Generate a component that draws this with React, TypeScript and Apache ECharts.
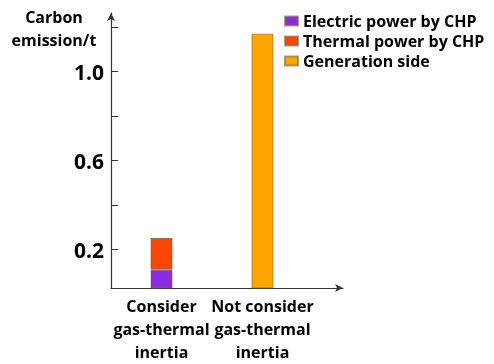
import React, { useEffect, useRef } from "react";
import * as echarts from "echarts";

const categories = ["Consider\ngas-thermal\ninertia", "Not consider\ngas-thermal\ninertia"];
const seriesNames = ["Electric power by CHP", "Thermal power by CHP", "Generation side"];
const electricCHP = [0.109, 0];
const thermalCHP = [0.14, 0];
const generationSide = [0, 1.17];
const yTickValues = [0.2, 0.4, 0.6, 0.8, 1.0, 1.2];
const yLabelValues = [0.2, 0.6, 1.0];
const colors = ["#8A2BE2", "#FF4500", "#FFA500"];

const FONT = "Open Sans";
const AXIS_COLOR = "#333";

export default function App() {
  const ref = useRef<HTMLDivElement>(null);
  useEffect(() => {
    if (!ref.current) return;
    const chart = echarts.init(ref.current, null, { renderer: "svg" });
    const values = [electricCHP, thermalCHP, generationSide];
    chart.setOption({
      animation: false,
      textStyle: { fontFamily: FONT },
      grid: [
        { left: 111, right: 181, top: 13, bottom: 76 },
        { left: 111, right: 151, top: 13, bottom: 76 },
      ],
      legend: {
        orient: "vertical",
        left: 284,
        top: 12,
        padding: 0,
        itemWidth: 13,
        itemHeight: 9,
        itemGap: 2,
        icon: "rect",
        textStyle: { fontFamily: FONT, fontWeight: "bold", fontSize: 16, lineHeight: 18, color: "#000" },
        data: seriesNames,
      },
      graphic: [
        {
          type: "text",
          x: 54,
          y: 5,
          style: {
            text: "Carbon\nemission/t",
            textAlign: "center",
            font: `bold 16px ${FONT}`,
            lineHeight: 23,
            fill: "#000",
          },
        },
      ],
      xAxis: [
        {
          type: "category",
          gridIndex: 0,
          data: categories,
          axisLine: { show: false },
          axisTick: { show: false },
          splitLine: { show: false },
          axisLabel: {
            interval: 0,
            fontFamily: FONT,
            fontWeight: "bold",
            fontSize: 16,
            lineHeight: 23,
            color: "#000",
            margin: 6,
          },
        },
        {
          type: "value",
          gridIndex: 1,
          min: 0,
          max: 1,
          axisLine: { show: true, symbol: ["none", "arrow"], symbolSize: [6, 8], lineStyle: { color: AXIS_COLOR, width: 1.2 } },
          axisTick: { show: false },
          axisLabel: { show: false },
          splitLine: { show: false },
        },
      ],
      yAxis: [
        {
          type: "value",
          gridIndex: 0,
          min: 0.027,
          max: 1.263,
          axisLine: { show: true, symbol: ["none", "arrow"], symbolSize: [6, 8], lineStyle: { color: AXIS_COLOR, width: 1.2 } },
          axisTick: { show: true, inside: true, length: 7, customValues: yTickValues, lineStyle: { color: AXIS_COLOR } },
          splitLine: { show: false },
          axisLabel: {
            customValues: yLabelValues,
            formatter: (v: number) => v.toFixed(1),
            fontFamily: FONT,
            fontWeight: "bold",
            fontSize: 21,
            color: "#000",
            margin: 7,
          },
        },
        {
          type: "value",
          gridIndex: 1,
          min: 0,
          max: 1,
          show: false,
        },
      ],
      series: seriesNames.map((name, si) => ({
        name,
        type: "bar",
        stack: "total",
        barWidth: 22,
        clip: true,
        xAxisIndex: 0,
        yAxisIndex: 0,
        itemStyle: { color: colors[si], borderColor: "rgba(120,100,60,0.6)", borderWidth: 1 },
        data: values[si],
      })),
    });
    return () => chart.dispose();
  }, []);
  return <div ref={ref} style={{ position: "fixed", left: 0, top: 0, width: 494, height: 364 }} />;
}
